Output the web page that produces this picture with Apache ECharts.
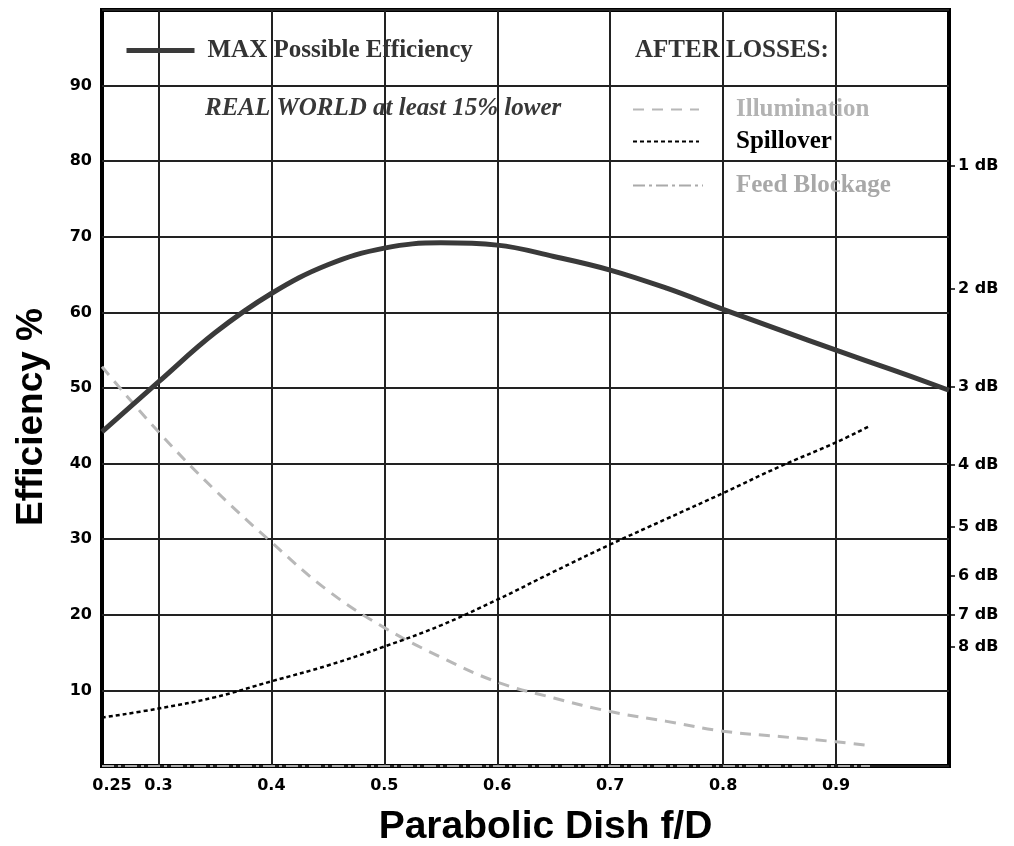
<!DOCTYPE html>
<html>
<head>
<meta charset="utf-8">
<script src="https://cdn.jsdelivr.net/npm/echarts@6/dist/echarts.min.js"></script>
<style>
  html, body { margin: 0; padding: 0; background: #fff; }
  #chart { width: 1014px; height: 846px; }
</style>
</head>
<body>
<div id="chart"></div>
<script>
// f/D positions of the max efficiency curve
const fdMax = [0.25, 0.3, 0.35, 0.4, 0.45, 0.5, 0.55, 0.6, 0.65, 0.7, 0.75, 0.8, 0.85, 0.9, 0.95, 1.0]
const maxEff = [44.2, 50.8, 57.3, 62.5, 66.3, 68.5, 69.2, 68.9, 67.4, 65.6, 63.2, 60.4, 57.7, 55.0, 52.4, 49.7]

// f/D positions of the loss curves
const fdLoss = [0.25, 0.3, 0.35, 0.4, 0.45, 0.5, 0.55, 0.6, 0.65, 0.7, 0.75, 0.8, 0.85, 0.9, 0.93]
const illumination = [52.8, 44.2, 36.5, 29.6, 23.2, 18.3, 14.4, 11.1, 9.0, 7.2, 5.9, 4.6, 3.9, 3.2, 2.7]
const spillover = [6.4, 7.6, 9.1, 11.2, 13.3, 15.8, 18.6, 22.0, 25.7, 29.3, 32.7, 36.1, 39.6, 42.8, 45.0]
const feedBlockage = [0, 0, 0, 0, 0, 0, 0, 0, 0, 0, 0, 0, 0, 0, 0]

// axis ticks
const xLabels = [0.25, 0.3, 0.4, 0.5, 0.6, 0.7, 0.8, 0.9]
const xGridLines = [0.3, 0.4, 0.5, 0.6, 0.7, 0.8, 0.9]
const dbTicks = [79.4, 63.1, 50.1, 39.8, 31.6, 25.1, 20.0, 15.8]
const dbLabels = ['1 dB', '2 dB', '3 dB', '4 dB', '5 dB', '6 dB', '7 dB', '8 dB']

const pairs = (xs, ys) => xs.map((x, i) => [x, ys[i]])

const tickFont = {
  fontFamily: 'DejaVu Sans',
  fontWeight: 'bold',
  fontSize: 16,
  color: '#000'
}
const legendFont = {
  fontFamily: 'Liberation Serif',
  fontWeight: 'bold',
  fontSize: 25
}
// legend glyphs: line only, no symbol
const noSymbol = { opacity: 0 }

let myChart = echarts.init(document.getElementById('chart'))
const option = {
  animation: false,
  backgroundColor: '#fff',
  grid: {
    left: 102,
    right: 65,
    top: 10,
    bottom: 80,
    outerBoundsMode: 'none',
    show: true,
    borderColor: '#000',
    borderWidth: 4
  },
  legend: [
    {
      data: [{ name: 'MAX Possible Efficiency', textStyle: { color: '#333' } }],
      left: 119,
      top: 33,
      itemWidth: 68,
      itemHeight: 14,
      selectedMode: false,
      itemStyle: noSymbol,
      lineStyle: { width: 5 },
      textStyle: Object.assign({ padding: [0, 0, 0, 8] }, legendFont)
    },
    {
      data: [{ name: 'Illumination', textStyle: { color: '#b3b3b3' } }],
      left: 627,
      top: 92,
      itemWidth: 66,
      itemHeight: 14,
      selectedMode: false,
      itemStyle: noSymbol,
      textStyle: Object.assign({ padding: [0, 0, 0, 32] }, legendFont)
    },
    {
      data: [{ name: 'Spillover', textStyle: { color: '#000' } }],
      left: 627,
      top: 124,
      itemWidth: 66,
      itemHeight: 14,
      selectedMode: false,
      itemStyle: noSymbol,
      textStyle: Object.assign({ padding: [0, 0, 0, 32] }, legendFont)
    },
    {
      data: [{ name: 'Feed Blockage', textStyle: { color: '#a8a8a8' } }],
      left: 627,
      top: 168,
      itemWidth: 70,
      itemHeight: 14,
      selectedMode: false,
      itemStyle: noSymbol,
      textStyle: Object.assign({ padding: [0, 0, 0, 28] }, legendFont)
    }
  ],
  graphic: [
    {
      type: 'text',
      left: 205,
      top: 96,
      style: {
        text: 'REAL WORLD at least 15% lower',
        font: 'italic bold 25px "Liberation Serif"',
        fill: '#383838'
      }
    },
    {
      type: 'text',
      left: 635,
      top: 38,
      style: {
        text: 'AFTER LOSSES:',
        font: 'bold 25px "Liberation Serif"',
        fill: '#333'
      }
    }
  ],
  xAxis: {
    type: 'value',
    min: 0.25,
    max: 1.0,
    name: 'Parabolic Dish f/D',
    nameLocation: 'middle',
    nameGap: 42,
    nameTextStyle: {
      fontFamily: 'Liberation Sans',
      fontWeight: 'bold',
      fontSize: 39,
      color: '#000',
      padding: [0, 0, 0, 40]
    },
    axisLine: { show: false },
    axisTick: { show: false, customValues: xGridLines },
    splitLine: { show: true, lineStyle: { color: '#222', width: 2 } },
    axisLabel: Object.assign({
      margin: 12,
      customValues: xLabels,
      formatter: (v) => (v === 0.25 ? '{a|0.25}' : String(v)),
      rich: {
        a: Object.assign({ padding: [0, 0, 0, 20] }, tickFont)
      }
    }, tickFont)
  },
  yAxis: [
    {
      type: 'value',
      min: 0,
      max: 100,
      interval: 10,
      name: 'Efficiency %',
      nameLocation: 'middle',
      nameGap: 52,
      nameTextStyle: {
        fontFamily: 'Liberation Sans',
        fontWeight: 'bold',
        fontSize: 37,
        color: '#000',
        padding: [0, 58, 0, 0]
      },
      axisLine: { show: false },
      axisTick: { show: false },
      splitLine: { show: true, lineStyle: { color: '#222', width: 2 } },
      axisLabel: Object.assign({
        margin: 10,
        formatter: (v) => (v === 0 || v === 100 ? '' : String(v))
      }, tickFont)
    },
    {
      type: 'value',
      position: 'right',
      min: 0,
      max: 100,
      axisLine: { show: false },
      splitLine: { show: false },
      axisTick: {
        show: true,
        length: 6,
        customValues: dbTicks,
        lineStyle: { color: '#000', width: 1.5 }
      },
      axisLabel: Object.assign({
        margin: 9,
        customValues: dbTicks,
        formatter: (v) => {
          let idx = dbTicks.findIndex(d => Math.abs(d - v) < 0.01)
          return idx >= 0 ? dbLabels[idx] : ''
        }
      }, tickFont)
    }
  ],
  series: [
    {
      name: 'MAX Possible Efficiency',
      type: 'line',
      smooth: 0.4,
      symbol: 'none',
      z: 5,
      lineStyle: { color: '#3a3a3a', width: 5 },
      itemStyle: { color: '#3a3a3a' },
      data: pairs(fdMax, maxEff)
    },
    {
      name: 'Illumination',
      type: 'line',
      smooth: 0.4,
      symbol: 'none',
      z: 4,
      lineStyle: { color: '#b8b8b8', width: 3, type: [11, 8] },
      itemStyle: { color: '#b8b8b8' },
      data: pairs(fdLoss, illumination)
    },
    {
      name: 'Spillover',
      type: 'line',
      smooth: 0.4,
      symbol: 'none',
      z: 4,
      lineStyle: { color: '#000', width: 2.5, type: [4, 3] },
      itemStyle: { color: '#000' },
      data: pairs(fdLoss, spillover)
    },
    {
      name: 'Feed Blockage',
      type: 'line',
      symbol: 'none',
      clip: false,
      z: 4,
      lineStyle: { color: '#aaa', width: 2, type: [12, 4, 3, 4] },
      itemStyle: { color: '#aaa' },
      data: pairs(fdLoss, feedBlockage)
    }
  ]
}
myChart.setOption(option)
</script>
</body>
</html>
